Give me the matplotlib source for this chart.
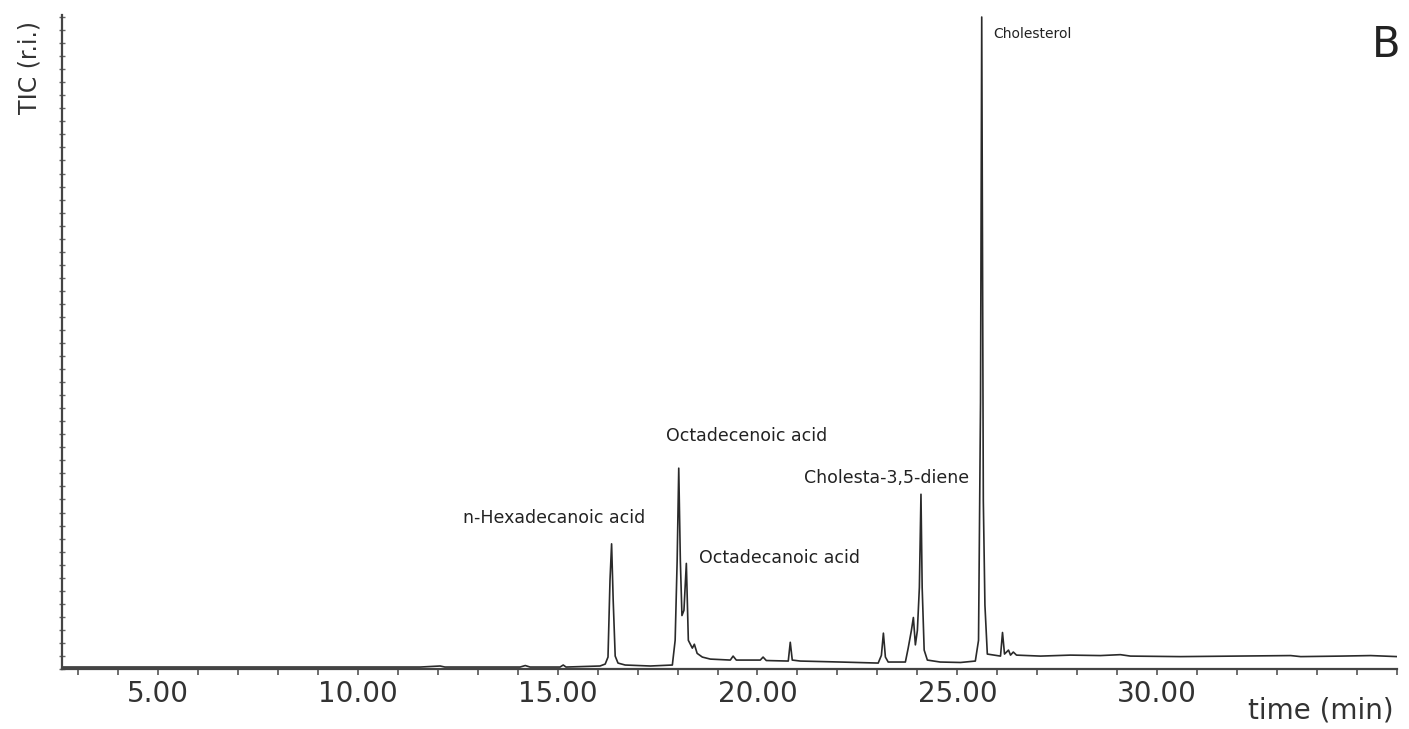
import numpy as np
import matplotlib
matplotlib.use('Agg')
from matplotlib import pyplot as plt
from matplotlib.ticker import MultipleLocator, FixedLocator

# retention time (min) and relative intensity (% of cholesterol peak)
time_min = [2.60, 6.05, 11.56, 12.06, 12.18, 14.06, 14.19, 14.31, 15.06, 15.14, 15.21,
            16.06, 16.19, 16.26, 16.31, 16.35, 16.39, 16.44, 16.51, 16.69, 17.32,
            17.87, 17.94, 17.99, 18.03, 18.07, 18.11, 18.16, 18.22, 18.27, 18.37,
            18.42, 18.49, 18.62, 18.82, 19.32, 19.39, 19.47, 20.07, 20.14, 20.22,
            20.77, 20.82, 20.87, 21.07, 22.07, 23.02, 23.10, 23.15, 23.20, 23.27,
            23.70, 23.77, 23.85, 23.90, 23.95, 24.00, 24.05, 24.09, 24.12, 24.17,
            24.25, 24.57, 25.08, 25.45, 25.53, 25.58, 25.61, 25.65, 25.69, 25.75,
            26.08, 26.13, 26.18, 26.28, 26.33, 26.40, 26.48, 27.08, 27.83, 28.58,
            29.08, 29.33, 30.58, 33.34, 33.59, 34.59, 35.34, 36.01]
intensity = [0.30, 0.30, 0.30, 0.46, 0.30, 0.30, 0.53, 0.30, 0.30, 0.61, 0.30,
             0.46, 0.76, 1.83, 13.6, 19.2, 10.5, 1.98, 0.91, 0.61, 0.46,
             0.61, 4.4, 16.6, 30.8, 16.6, 8.2, 9.0, 16.2, 4.4, 3.2,
             3.8, 2.4, 1.83, 1.52, 1.37, 1.98, 1.37, 1.37, 1.83, 1.30,
             1.22, 4.1, 1.37, 1.22, 1.07, 0.91, 2.1, 5.5, 1.83, 1.07,
             1.07, 3.2, 5.9, 7.9, 3.7, 5.9, 12.5, 26.8, 12.5, 2.9,
             1.37, 1.07, 1.0, 1.22, 4.4, 41.0, 100.0, 25.8, 9.8, 2.29,
             1.98, 5.6, 2.29, 2.9, 2.13, 2.6, 2.13, 1.98, 2.13, 2.06,
             2.2, 1.98, 1.9, 2.06, 1.9, 1.98, 2.06, 1.9]

peak_names = ['n-Hexadecanoic acid', 'Octadecenoic acid', 'Octadecanoic acid',
              'Cholesta-3,5-diene', 'Cholesterol']
label_x = [14.92, 19.74, 20.54, 23.22, 25.90]
label_y = [23.2, 35.7, 17.1, 29.3, 97.4]

major_ticks = [5, 10, 15, 20, 25, 30]

fig = plt.figure(figsize=(14.09, 7.29), dpi=100)
ax = fig.add_axes([0.044, 0.0823, 0.9475, 0.897])

ax.plot(time_min, intensity, color='#2a2a2a', lw=1.2)

ax.set_xlim(2.6, 36.0)
ax.set_ylim(0, 100.3)

for s in ['top', 'right']:
    ax.spines[s].set_visible(False)
for s in ['left', 'bottom']:
    ax.spines[s].set_color('#444444')
    ax.spines[s].set_linewidth(1.6)

ax.xaxis.set_major_locator(FixedLocator(major_ticks))
ax.xaxis.set_minor_locator(MultipleLocator(1))
ax.set_xticklabels(['%.2f' % v for v in major_ticks])
ax.tick_params(axis='x', which='both', direction='out', length=4, width=1.2,
               color='#555555', labelsize=20, labelcolor='#333333', pad=4)

ax.yaxis.set_major_locator(MultipleLocator(10))
ax.yaxis.set_minor_locator(MultipleLocator(2))
ax.set_yticklabels([])
ax.tick_params(axis='y', which='both', direction='inout', length=4, width=1.0,
               color='#666666')

for name, lx, ly in zip(peak_names, label_x, label_y):
    if name == 'Cholesterol':
        ax.text(lx, ly, name, fontsize=10, ha='left', va='center', color='#222222')
    else:
        ax.text(lx, ly, name, fontsize=12.5, ha='center', va='center', color='#222222')

ax.text(0.943, -0.063, 'time (min)', transform=ax.transAxes, fontsize=20,
        ha='center', va='center', color='#333333')
fig.text(0.021, 0.908, 'TIC (r.i.)', rotation=90, fontsize=17,
         ha='center', va='center', color='#333333')
fig.text(0.9837, 0.938, 'B', fontsize=30, ha='center', va='center', color='#222222')

fig.savefig('out.png', dpi=100)
